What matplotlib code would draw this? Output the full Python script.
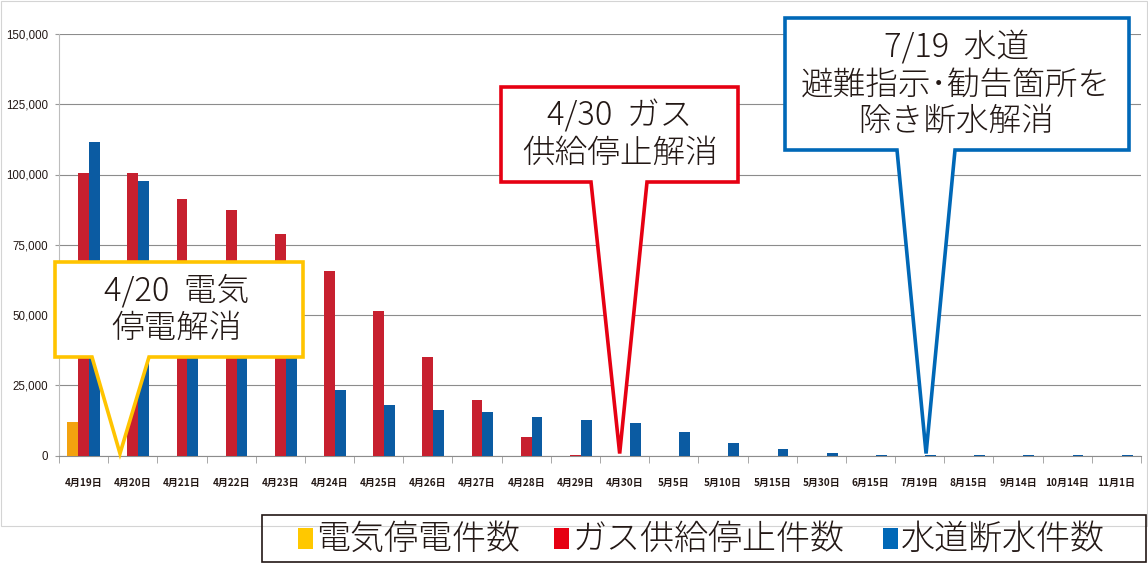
import matplotlib
matplotlib.use("Agg")
import matplotlib.pyplot as plt
from matplotlib.patches import Polygon, Rectangle
import numpy as np

# ---------------- data ----------------
categories = ["4月19日", "4月20日", "4月21日", "4月22日", "4月23日", "4月24日",
              "4月25日", "4月26日", "4月27日", "4月28日", "4月29日", "4月30日",
              "5月5日", "5月10日", "5月15日", "5月30日", "6月15日", "7月19日",
              "8月15日", "9月14日", "10月14日", "11月1日"]
electricity = [12000, 0, 0, 0, 0, 0, 0, 0, 0, 0, 0, 0,
               0, 0, 0, 0, 0, 0, 0, 0, 0, 0]
gas = [100500, 100500, 91400, 87400, 79000, 65600, 51500, 35200, 19900, 6700, 300, 0,
       0, 0, 0, 0, 0, 0, 0, 0, 0, 0]
water = [111500, 97600, 64000, 52000, 40000, 23200, 17800, 16200, 15500, 13700, 12500, 11400,
         8200, 4500, 2200, 800, 300, 250, 300, 300, 300, 300]
series_names = ["電気停電件数", "ガス供給停止件数", "水道断水件数"]
yticks = [0, 25000, 50000, 75000, 100000, 125000, 150000]

callout_texts = ["4/20  電気\n停電解消", "4/30  ガス\n供給停止解消",
                 "7/19  水道\n避難指示･勧告箇所を\n除き断水解消"]
callout_dates = ["4月20日", "4月30日", "7月19日"]

# ---------------- style ----------------
W, H = 1148, 564
bar_colors = ["#F3A20F", "#C7202F", "#0B5BA2"]
legend_colors = ["#FFC800", "#E60012", "#0068B7"]
callout_colors = ["#FFC400", "#E60012", "#0068B7"]
text_color = "#231815"
cjk = ["Noto Sans CJK JP", "DejaVu Sans"]

fig = plt.figure(figsize=(W / 100, H / 100), dpi=100)


def fx(x):
    return x / W


def fy(y):
    return 1 - y / H


# outer light frame
fig.patches.append(Rectangle((fx(0.5), fy(526)), fx(1146.5), 525.5 / H,
                             transform=fig.transFigure, fill=False,
                             edgecolor="#d4d4d4", linewidth=0.8))

ax = fig.add_axes([fx(59), fy(455.5), fx(1141) - fx(59), 421.5 / H])
n = len(categories)
x = np.arange(n)
bw = 0.22
for i, (vals, col) in enumerate(zip([electricity, gas, water], bar_colors)):
    ax.bar(x + (i - 1) * bw, vals, width=bw, color=col, linewidth=0, zorder=3)

ax.set_xlim(-0.5, n - 0.5)
ax.set_ylim(0, 150000)
ax.set_yticks(yticks)
ax.set_yticklabels([f"{v:,}" for v in yticks],
                   fontfamily=["Liberation Sans", "DejaVu Sans"],
                   fontsize=8.3, color=text_color)
ax.yaxis.grid(True, color="#8c8c8c", linewidth=0.8, zorder=0)
ax.set_axisbelow(True)
ax.tick_params(axis="y", length=3, color="#9a9a9a", pad=5)

ax.set_xticks(x)
ax.set_xticklabels(categories, fontfamily=cjk, fontweight="bold",
                   fontsize=7.2, color=text_color)
ax.set_xticks(np.arange(n + 1) - 0.5, minor=True)
ax.tick_params(axis="x", which="major", length=0, pad=16)
ax.tick_params(axis="x", which="minor", length=5, color="#9a9a9a")
for s in ["top", "right"]:
    ax.spines[s].set_visible(False)
ax.spines["left"].set_color("#bdbdbd")
ax.spines["bottom"].set_color("#8c8c8c")
ax.spines["left"].set_linewidth(0.8)
ax.spines["bottom"].set_linewidth(0.8)

# ---------------- callouts ----------------
fig.canvas.draw()
inv = fig.transFigure.inverted()


def tip_of(date, offset):
    idx = categories.index(date)
    disp = ax.transData.transform((idx + offset, 700))
    return inv.transform(disp)


# box (left, top, right, bottom) and pointer base (xl, xr) in pixels
boxes = [(55, 262, 303, 357), (501, 87, 738, 182), (785, 18, 1129, 150)]
bases = [(92, 149), (591, 647), (897, 955)]
offsets = [-0.26, -0.1, 0.13]
text_centers = [(177, 310), (620, 135), (956, 85)]

for txt, date, col, box, base, off, tc in zip(callout_texts, callout_dates,
                                             callout_colors, boxes, bases,
                                             offsets, text_centers):
    l, t, r, b = box
    tip = tip_of(date, off)
    pts = [(fx(l), fy(t)), (fx(r), fy(t)), (fx(r), fy(b)), (fx(base[1]), fy(b)),
           tuple(tip), (fx(base[0]), fy(b)), (fx(l), fy(b))]
    poly = Polygon(pts, closed=True, transform=fig.transFigure, facecolor="white",
                   edgecolor=col, linewidth=2.6, joinstyle="miter", zorder=10)
    fig.patches.append(poly)
    fig.text(fx(tc[0]), fy(tc[1]), txt, ha="center", va="center",
             fontfamily=cjk, fontweight=300, fontsize=23.5, color=text_color,
             linespacing=1.08, zorder=11)

# ---------------- legend ----------------
fig.patches.append(Rectangle((fx(262), fy(562)), fx(1146) - fx(262), 47 / H,
                             transform=fig.transFigure, fill=False,
                             edgecolor=text_color, linewidth=1.2))
sq_x = [298, 554, 883]
for name, col, sx in zip(series_names, legend_colors, sq_x):
    fig.patches.append(Rectangle((fx(sx), fy(549)), 15 / W, 21 / H,
                                 transform=fig.transFigure, facecolor=col,
                                 edgecolor="none"))
    fig.text(fx(sx + 18), fy(538.5), name, ha="left", va="center",
             fontfamily=cjk, fontweight=300, fontsize=24.5, color=text_color)

fig.savefig("out.png", dpi=100)
